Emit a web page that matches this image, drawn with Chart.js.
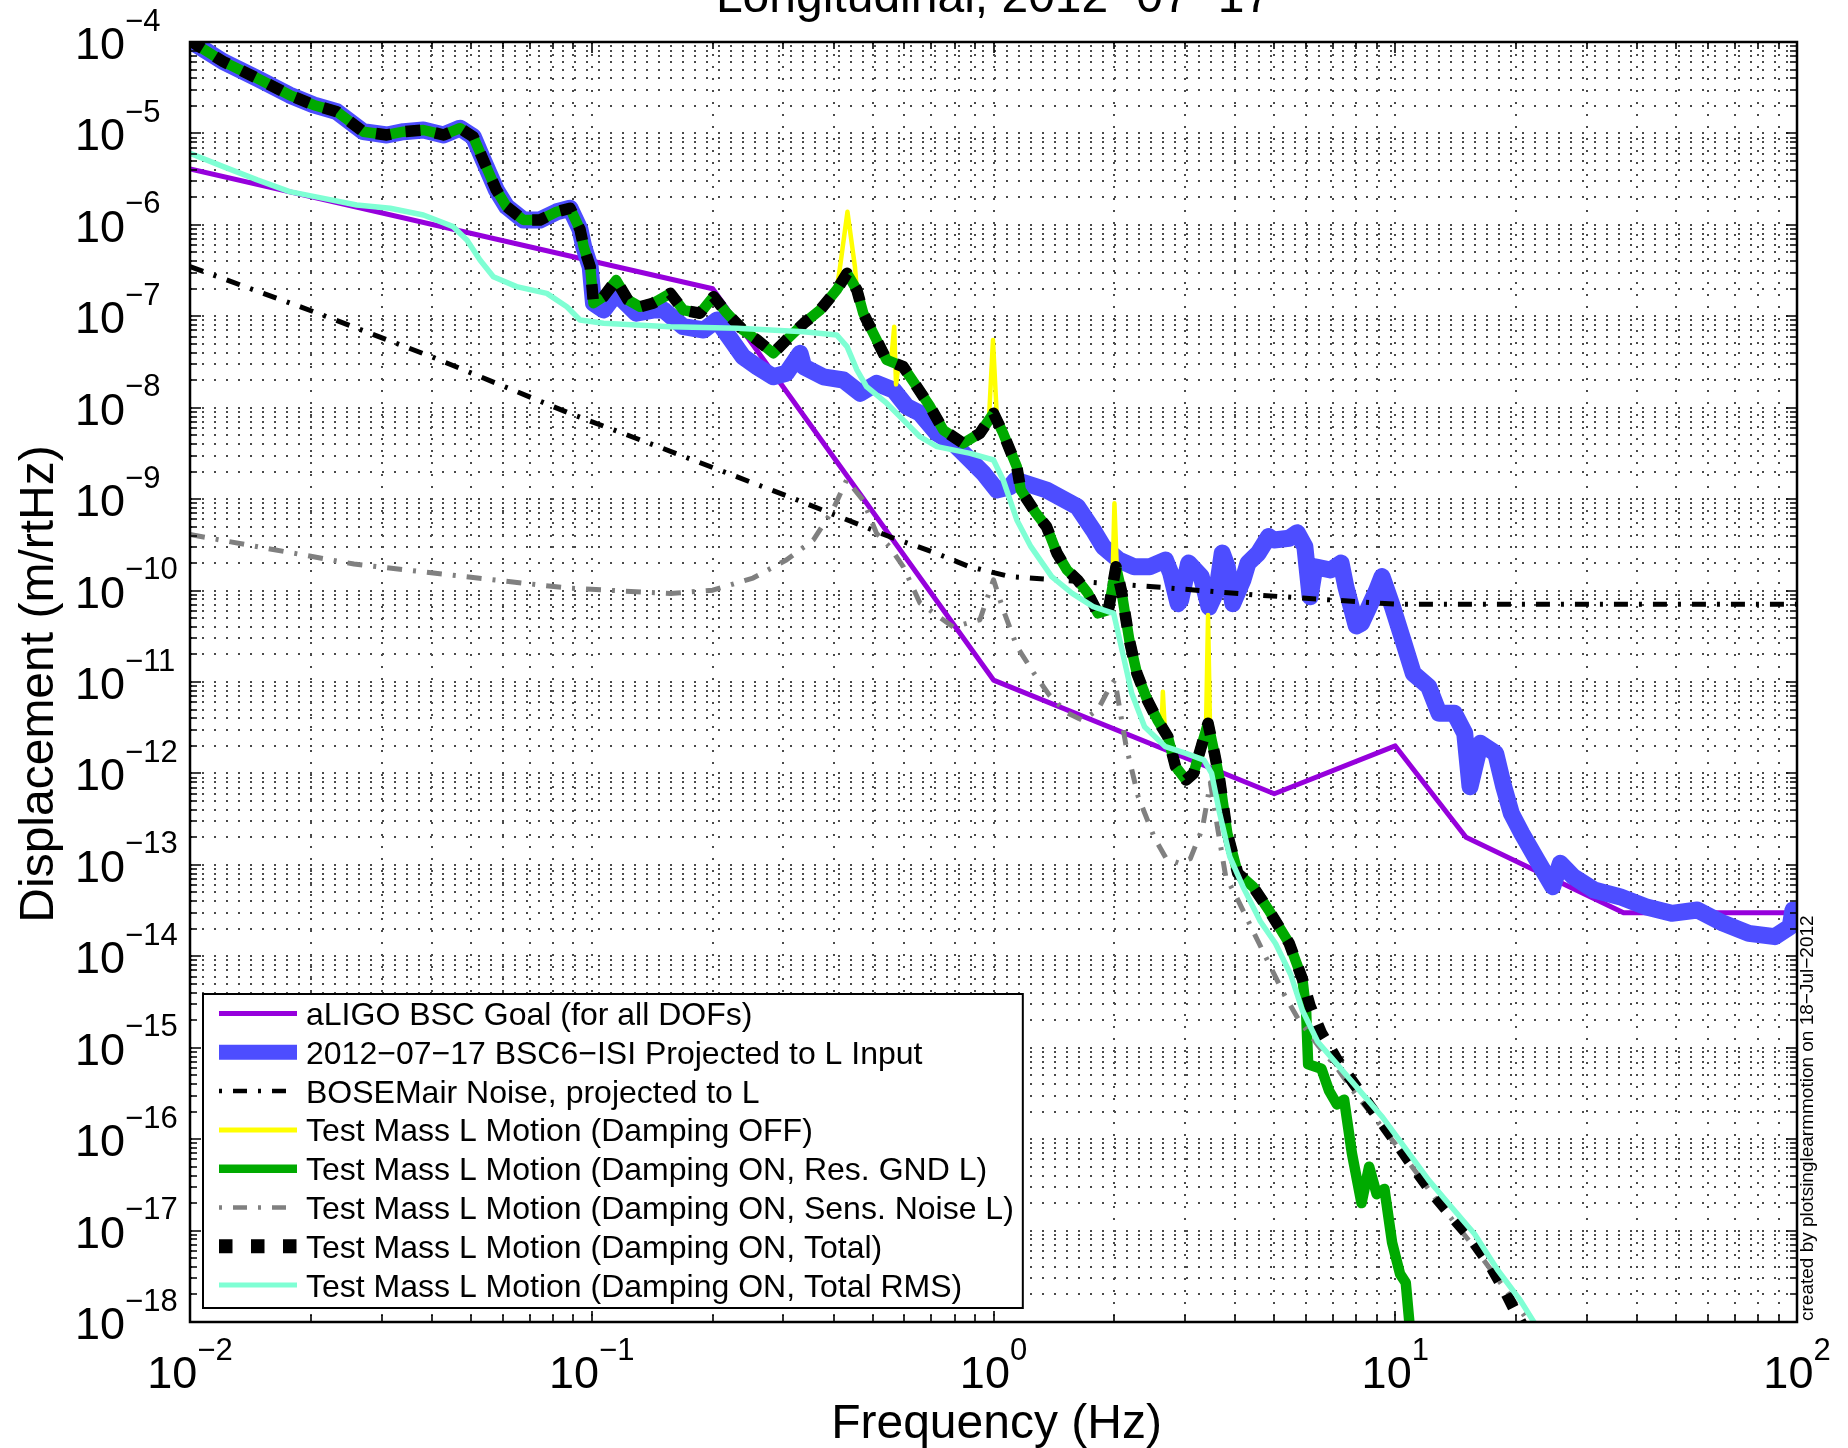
<!DOCTYPE html>
<html>
<head>
<meta charset="utf-8">
<script src="https://cdn.jsdelivr.net/npm/chart.js@4.4.0/dist/chart.umd.min.js"></script>
<style>html,body{margin:0;padding:0;background:#fff;overflow:hidden}canvas{display:block}</style>
</head>
<body>
<canvas id="c" width="1848" height="1448"></canvas>
<script>
const FONT = "'Liberation Sans', Arial, Helvetica, sans-serif";

const chartTitle = 'Longitudinal, 2012\u221207\u221217';
const xAxisTitle = 'Frequency (Hz)';
const yAxisTitle = 'Displacement (m/rtHz)';
const creditText = 'created by plotsinglearmmotion on 18\u2212Jul\u22122012';

const xTickExponents = [-2, -1, 0, 1, 2];
const yTickExponents = [-4, -5, -6, -7, -8, -9, -10, -11, -12, -13, -14, -15, -16, -17, -18];
const gridMultipliers = [1, 2, 3, 4, 5, 6, 7, 8, 9];

const seriesLabels = [
  'aLIGO BSC Goal (for all DOFs)',
  '2012\u221207\u221217 BSC6\u2212ISI Projected to L Input',
  'BOSEMair Noise, projected to L',
  'Test Mass L Motion (Damping OFF)',
  'Test Mass L Motion (Damping ON, Res. GND L)',
  'Test Mass L Motion (Damping ON, Sens. Noise L)',
  'Test Mass L Motion (Damping ON, Total)',
  'Test Mass L Motion (Damping ON, Total RMS)'
];

// aLIGO BSC goal
const goalFreq = [0.01, 0.2, 1, 5, 10, 15, 37, 100];
const goalVal  = [4.1e-6, 2.0e-7, 1.05e-11, 6.0e-13, 2.0e-12, 2.0e-13, 3.0e-14, 3.0e-14];

// BSC6-ISI projected input
const isiFreq = [0.01, 0.0104, 0.0121, 0.0147, 0.0177, 0.0203, 0.0232, 0.0270, 0.0309, 0.0340, 0.0381, 0.0428, 0.0470, 0.0507, 0.0537, 0.0579, 0.0614, 0.0676, 0.0743, 0.0818, 0.0883, 0.0935, 0.0955, 0.0991,
  0.101, 0.107, 0.115, 0.129, 0.142, 0.151, 0.169, 0.190, 0.205, 0.238, 0.258, 0.283, 0.305, 0.33, 0.337, 0.377, 0.423, 0.466, 0.512, 0.564, 0.608, 0.656, 0.723, 0.794, 0.875, 0.944,
  1.019, 1.099, 1.135, 1.355, 1.618, 1.77, 1.875, 2.051, 2.239, 2.449, 2.68, 2.761, 2.88, 2.924, 3.06, 3.289, 3.44, 3.597, 3.71, 3.819, 3.94, 4.178, 4.30, 4.56, 4.84, 4.989, 5.445, 5.70, 5.957, 6.138, 6.31, 6.902, 7.33, 7.534, 8.0, 8.241, 8.995, 9.27, 9.84,
  10.45, 11.09, 12.11, 12.85, 14.03, 14.89, 15.35, 16.29, 17.78, 18.62, 19.45, 20.65, 22.54, 24.66, 25.76, 27.73, 31.26, 36.22, 41.98, 48.75, 56.49, 65.46, 75.86, 88.1, 96.16, 97.7, 100];
const isiVal = [1.047e-4, 9.27e-5, 6.10e-5, 4.01e-5, 2.63e-5, 2.05e-5, 1.73e-5, 1.045e-5, 9.62e-6, 1.045e-5, 1.09e-5, 9.62e-6, 1.14e-5, 9.20e-6, 5.12e-6, 2.40e-6, 1.58e-6, 1.13e-6, 1.13e-6, 1.39e-6, 1.52e-6, 8.91e-7, 5.75e-7, 3.48e-7,
  1.39e-7, 1.17e-7, 1.78e-7, 1.08e-7, 1.17e-7, 1.17e-7, 7.69e-8, 7.08e-8, 9.1e-8, 3.61e-8, 2.81e-8, 2.18e-8, 2.38e-8, 3.94e-8, 2.81e-8, 2.18e-8, 2.01e-8, 1.44e-8, 1.85e-8, 1.56e-8, 1.03e-8, 8.69e-9, 5.25e-9, 4.08e-9, 2.68e-9, 1.92e-9,
  1.26e-9, 1.37e-9, 1.62e-9, 1.26e-9, 8.26e-10, 4.6e-10, 3.02e-10, 2.16e-10, 1.82e-10, 1.82e-10, 2.16e-10, 1.55e-10, 7.2e-11, 7.89e-11, 2.0e-10, 1.42e-10, 6.6e-11, 1.01e-10, 2.57e-10, 1.82e-10, 7.2e-11, 1.31e-10, 2.0e-10, 2.56e-10, 3.9e-10, 3.57e-10, 3.73e-10, 4.3e-10, 3.02e-10, 8.57e-11, 1.82e-10, 1.68e-10, 2.0e-10, 1.10e-10, 4.1e-11, 4.39e-11, 1.01e-10, 1.42e-10, 6.67e-11,
  2.88e-11, 1.24e-11, 8.89e-12, 4.55e-12, 4.55e-12, 2.75e-12, 7.16e-13, 2.14e-12, 1.66e-12, 7.16e-13, 3.66e-13, 2.21e-13, 1.13e-13, 5.77e-14, 1.04e-13, 7.43e-14, 5.31e-14, 4.49e-14, 3.49e-14, 2.95e-14, 3.21e-14, 2.3e-14, 1.78e-14, 1.64e-14, 2.11e-14, 3.21e-14, 2.5e-14];

// BOSEMair noise projected to L
const bosemFreq = [0.01, 0.02, 0.04, 0.088, 0.15, 0.31, 0.55, 0.72, 0.87, 1.1, 2.5, 4.5, 10, 100];
const bosemVal  = [3.5e-7, 1.15e-7, 3.6e-8, 8.7e-9, 3.6e-9, 1.06e-9, 3.9e-10, 2.56e-10, 1.83e-10, 1.42e-10, 1.10e-10, 8.95e-11, 7.1e-11, 7.1e-11];

// Test mass L, damping OFF
const dampOffFreq = [0.01, 0.0104, 0.0121, 0.0147, 0.0177, 0.0203, 0.0232, 0.0270, 0.0309, 0.0340, 0.0381, 0.0428, 0.0470, 0.0507, 0.0537, 0.0579, 0.0614, 0.0676, 0.0743, 0.0818, 0.0883, 0.0935, 0.0955, 0.0991,
  0.101, 0.107, 0.115, 0.123, 0.132, 0.142, 0.157, 0.169, 0.186, 0.201, 0.217, 0.238, 0.258, 0.283, 0.305, 0.337, 0.370, 0.407,
  0.415, 0.433, 0.452, 0.457, 0.474, 0.502, 0.542, 0.556, 0.566, 0.572, 0.58, 0.596, 0.644, 0.695, 0.750, 0.841, 0.925, 0.975, 0.997, 1.02,
  1.057, 1.143, 1.169, 1.276, 1.355, 1.439, 1.524, 1.618, 1.718, 1.820, 1.932, 1.975, 2.0, 2.03, 2.080, 2.178, 2.275, 2.415, 2.559, 2.62, 2.64, 2.67, 2.716, 2.838, 3.013, 3.148, 3.289, 3.38, 3.42, 3.46,
  3.548, 3.656, 3.819, 4.055, 4.426, 4.842, 5.445, 5.875, 6.00, 6.07, 6.55, 6.84, 7.16, 7.46, 7.80, 8.24, 8.61, 8.99, 9.40, 9.82, 10.28, 10.62, 10.84, 11.09];
const dampOffVal = [1.047e-4, 9.27e-5, 6.10e-5, 4.01e-5, 2.63e-5, 2.05e-5, 1.73e-5, 1.045e-5, 9.62e-6, 1.045e-5, 1.09e-5, 9.62e-6, 1.14e-5, 9.20e-6, 5.12e-6, 2.40e-6, 1.58e-6, 1.13e-6, 1.13e-6, 1.39e-6, 1.52e-6, 8.91e-7, 5.75e-7, 3.48e-7,
  1.39e-7, 1.64e-7, 2.49e-7, 1.51e-7, 1.27e-7, 1.39e-7, 1.78e-7, 1.17e-7, 1.08e-7, 1.64e-7, 1.08e-7, 7.08e-8, 5.51e-8, 3.94e-8, 5.51e-8, 8.38e-8, 1.17e-7, 1.94e-7,
  3.47e-7, 1.39e-6, 3.47e-7, 1.94e-7, 1.08e-7, 6.52e-8, 3.33e-8, 3.2e-8, 7.7e-8, 1.8e-8, 2.9e-8, 2.81e-8, 1.70e-8, 1.03e-8, 5.70e-9, 4.08e-9, 5.25e-9, 8.0e-9, 5.5e-8, 7.5e-9,
  5.25e-9, 2.26e-9, 1.26e-9, 7.0e-10, 5.0e-10, 2.56e-10, 1.68e-10, 1.31e-10, 9.33e-11, 5.64e-11, 6.12e-11, 1.0e-10, 9.0e-10, 1.5e-10, 1.01e-10, 2.88e-11, 1.24e-11, 6.35e-12, 3.85e-12, 3.2e-12, 7.8e-12, 2.9e-12, 2.52e-12, 1.19e-12, 8.47e-13, 1.0e-12, 1.96e-12, 3.0e-12, 5.4e-11, 3.0e-12,
  1.66e-12, 8.47e-13, 2.21e-13, 8.09e-14, 5.77e-14, 3.21e-14, 1.39e-14, 5.61e-15, 2.5e-15, 6.6e-16, 5.9e-16, 3.4e-16, 2.4e-16, 2.7e-16, 7.0e-17, 2.0e-17, 5.0e-17, 2.5e-17, 2.85e-17, 7.4e-18, 3.35e-18, 2.7e-18, 1.0e-18, 2.5e-19];

// Test mass L, damping ON, residual ground
const resGndFreq = [0.01, 0.0104, 0.0121, 0.0147, 0.0177, 0.0203, 0.0232, 0.0270, 0.0309, 0.0340, 0.0381, 0.0428, 0.0470, 0.0507, 0.0537, 0.0579, 0.0614, 0.0676, 0.0743, 0.0818, 0.0883, 0.0935, 0.0955, 0.0991,
  0.101, 0.107, 0.115, 0.123, 0.132, 0.142, 0.157, 0.169, 0.186, 0.201, 0.217, 0.238, 0.258, 0.283, 0.305, 0.337, 0.370, 0.407, 0.432, 0.457, 0.474, 0.502, 0.542, 0.596, 0.644, 0.695, 0.750, 0.841, 0.925,
  1.0, 1.057, 1.143, 1.169, 1.276, 1.355, 1.439, 1.524, 1.618, 1.718, 1.820, 1.932, 2.018, 2.080, 2.178, 2.275, 2.415, 2.559, 2.716, 2.838, 3.013, 3.148, 3.289, 3.420, 3.548, 3.656, 3.819, 4.055, 4.426, 4.842, 5.445, 5.875,
  6.00, 6.07, 6.55, 6.84, 7.16, 7.46, 7.80, 8.24, 8.61, 8.99, 9.40, 9.82, 10.28, 10.62, 10.84, 11.09];
const resGndVal = [1.047e-4, 9.27e-5, 6.10e-5, 4.01e-5, 2.63e-5, 2.05e-5, 1.73e-5, 1.045e-5, 9.62e-6, 1.045e-5, 1.09e-5, 9.62e-6, 1.14e-5, 9.20e-6, 5.12e-6, 2.40e-6, 1.58e-6, 1.13e-6, 1.13e-6, 1.39e-6, 1.52e-6, 8.91e-7, 5.75e-7, 3.48e-7,
  1.39e-7, 1.64e-7, 2.49e-7, 1.51e-7, 1.27e-7, 1.39e-7, 1.78e-7, 1.17e-7, 1.08e-7, 1.64e-7, 1.08e-7, 7.08e-8, 5.51e-8, 3.94e-8, 5.51e-8, 8.38e-8, 1.17e-7, 1.94e-7, 2.95e-7, 1.94e-7, 1.08e-7, 6.52e-8, 3.33e-8, 2.81e-8, 1.70e-8, 1.03e-8, 5.70e-9, 4.08e-9, 5.25e-9,
  8.69e-9, 5.25e-9, 2.26e-9, 1.26e-9, 7.0e-10, 5.0e-10, 2.56e-10, 1.68e-10, 1.31e-10, 9.33e-11, 5.64e-11, 6.12e-11, 1.82e-10, 1.01e-10, 2.88e-11, 1.24e-11, 6.35e-12, 3.85e-12, 2.52e-12, 1.19e-12, 8.47e-13, 1.0e-12, 1.96e-12, 3.54e-12, 1.66e-12, 8.47e-13, 2.21e-13, 8.09e-14, 5.77e-14, 3.21e-14, 1.39e-14, 5.61e-15,
  2.5e-15, 6.6e-16, 5.9e-16, 3.4e-16, 2.4e-16, 2.7e-16, 7.0e-17, 2.0e-17, 5.0e-17, 2.5e-17, 2.85e-17, 7.4e-18, 3.35e-18, 2.7e-18, 1.0e-18, 2.5e-19];

// Test mass L, damping ON, sensor noise
const sensFreq = [0.01, 0.0256, 0.0706, 0.0883, 0.157, 0.200, 0.252, 0.305, 0.356, 0.398, 0.431, 0.473, 0.512, 0.552, 0.596, 0.656, 0.794, 0.925, 1.0, 1.057, 1.143, 1.259, 1.38, 1.524, 1.667, 1.82, 1.95, 2.004,
  2.138, 2.291, 2.512, 2.692, 2.884, 3.09, 3.311, 3.467, 3.614, 3.784, 4.046, 4.416, 4.819, 5.26, 5.741, 6.412, 7.161, 7.943, 10.0, 12.59, 15.85, 19.95, 22.39];
const sensVal = [4.1e-10, 1.95e-10, 1.18e-10, 1.06e-10, 9.3e-11, 1.01e-10, 1.37e-10, 2.16e-10, 3.57e-10, 7.6e-10, 1.62e-9, 9.8e-10, 4.2e-10, 3.0e-10, 1.83e-10, 7.3e-11, 4.0e-11, 4.8e-11, 1.31e-10, 6.2e-11, 2.45e-11, 1.26e-11, 7.1e-12, 4.6e-12, 3.8e-12, 5.0e-12, 8.9e-12, 1.05e-11,
  2.0e-12, 5.6e-13, 2.0e-13, 1.17e-13, 1.05e-13, 1.17e-13, 2.5e-13, 7.9e-13, 2.5e-13, 7.5e-14, 4.25e-14, 1.93e-14, 8.8e-15, 4.0e-15, 2.04e-15, 1.07e-15, 6.0e-16, 3.16e-16, 8.9e-17, 2.24e-17, 6.3e-18, 1.58e-18, 7.9e-19];

// Test mass L, damping ON, total
const totalFreq = [0.01, 0.0104, 0.0121, 0.0147, 0.0177, 0.0203, 0.0232, 0.0270, 0.0309, 0.0340, 0.0381, 0.0428, 0.0470, 0.0507, 0.0537, 0.0579, 0.0614, 0.0676, 0.0743, 0.0818, 0.0883, 0.0935, 0.0955, 0.0991,
  0.101, 0.107, 0.115, 0.123, 0.132, 0.142, 0.157, 0.169, 0.186, 0.201, 0.217, 0.238, 0.258, 0.283, 0.305, 0.337, 0.370, 0.407, 0.432, 0.457, 0.474, 0.502, 0.542, 0.596, 0.644, 0.695, 0.750, 0.841, 0.925,
  1.0, 1.057, 1.143, 1.169, 1.276, 1.355, 1.439, 1.524, 1.618, 1.718, 1.820, 1.932, 2.018, 2.080, 2.178, 2.275, 2.415, 2.559, 2.716, 2.838, 3.013, 3.148, 3.289, 3.420, 3.548, 3.656, 3.819, 4.055, 4.426, 4.842, 5.445, 5.875,
  6.138, 6.546, 7.161, 7.980, 8.913, 9.954, 11.09, 12.39, 13.80, 15.42, 17.22, 18.79, 20.04, 21.38];
const totalVal = [1.047e-4, 9.27e-5, 6.10e-5, 4.01e-5, 2.63e-5, 2.05e-5, 1.73e-5, 1.045e-5, 9.62e-6, 1.045e-5, 1.09e-5, 9.62e-6, 1.14e-5, 9.20e-6, 5.12e-6, 2.40e-6, 1.58e-6, 1.13e-6, 1.13e-6, 1.39e-6, 1.52e-6, 8.91e-7, 5.75e-7, 3.48e-7,
  1.39e-7, 1.64e-7, 2.49e-7, 1.51e-7, 1.27e-7, 1.39e-7, 1.78e-7, 1.17e-7, 1.08e-7, 1.64e-7, 1.08e-7, 7.08e-8, 5.51e-8, 3.94e-8, 5.51e-8, 8.38e-8, 1.17e-7, 1.94e-7, 2.95e-7, 1.94e-7, 1.08e-7, 6.52e-8, 3.33e-8, 2.81e-8, 1.70e-8, 1.03e-8, 5.70e-9, 4.08e-9, 5.25e-9,
  8.69e-9, 5.25e-9, 2.26e-9, 1.26e-9, 7.0e-10, 5.0e-10, 2.56e-10, 1.68e-10, 1.31e-10, 9.33e-11, 5.64e-11, 6.12e-11, 1.82e-10, 1.01e-10, 2.88e-11, 1.24e-11, 6.35e-12, 3.85e-12, 2.52e-12, 1.19e-12, 8.47e-13, 1.0e-12, 1.96e-12, 3.54e-12, 1.66e-12, 8.47e-13, 2.21e-13, 8.09e-14, 5.77e-14, 3.21e-14, 1.39e-14, 5.61e-15,
  2.86e-15, 1.45e-15, 7.41e-16, 3.78e-16, 1.92e-16, 9.79e-17, 4.99e-17, 2.54e-17, 1.45e-17, 8.26e-18, 4.21e-18, 2.14e-18, 1.22e-18, 7.08e-19];

// Test mass L, damping ON, total RMS
const rmsFreq = [0.01, 0.0121, 0.0147, 0.0177, 0.0215, 0.026, 0.0315, 0.0381, 0.0452, 0.0489, 0.0527, 0.0569, 0.065, 0.0773, 0.0867, 0.0935, 0.107, 0.157, 0.23, 0.337, 0.407, 0.432, 0.457, 0.483, 0.542, 0.596, 0.656, 0.723, 0.875,
  1.0, 1.057, 1.143, 1.239, 1.396, 1.57, 1.77, 1.991, 2.08, 2.208, 2.377, 2.679, 3.013, 3.342, 3.491, 3.656, 3.873, 4.178, 4.613, 5.035, 5.495, 5.875, 6.412, 7.161, 8.166, 9.311, 10.62, 12.11, 13.8, 15.74, 17.95, 20.51, 22.13, 23.4];
const rmsVal = [6.07e-6, 4.33e-6, 3.10e-6, 2.31e-6, 1.95e-6, 1.65e-6, 1.52e-6, 1.28e-6, 9.55e-7, 6.82e-7, 4.13e-7, 2.71e-7, 2.11e-7, 1.78e-7, 1.27e-7, 9.1e-8, 8.38e-8, 7.69e-8, 7.4e-8, 6.79e-8, 6.25e-8, 4.66e-8, 2.59e-8, 1.70e-8, 1.12e-8, 7.35e-9, 4.82e-9, 3.75e-9, 3.17e-9,
  2.68e-9, 1.62e-9, 5.92e-10, 3.02e-10, 1.42e-10, 9.33e-11, 6.67e-11, 5.64e-11, 2.43e-11, 7.52e-12, 3.24e-12, 1.96e-12, 1.66e-12, 1.40e-12, 1.0e-12, 3.66e-13, 1.23e-13, 5.77e-14, 2.42e-14, 1.38e-14, 6.28e-15, 2.55e-15, 1.16e-15, 6.62e-16, 3.37e-16, 1.72e-16, 7.82e-17, 3.56e-17, 1.81e-17, 9.23e-18, 3.75e-18, 1.71e-18, 1.0e-18, 6.3e-19];

const seriesFreq = [goalFreq, isiFreq, bosemFreq, dampOffFreq, resGndFreq, sensFreq, totalFreq, rmsFreq];
const seriesVal  = [goalVal, isiVal, bosemVal, dampOffVal, resGndVal, sensVal, totalVal, rmsVal];

const seriesStyles = [
  { color: '#9600DC', width: 5, dash: [], order: 8, lw: 5 },
  { color: '#4D4DFF', width: 17, dash: [], order: 7, lw: 15 },
  { color: '#000000', width: 5, dash: [14, 11, 3, 11], order: 6, lw: 4.5, ldash: [14, 11, 3, 11], loff: 25 },
  { color: '#FFFF00', width: 4.5, dash: [], order: 5, lw: 5 },
  { color: '#00AA00', width: 10.5, dash: [], order: 4, lw: 8.5 },
  { color: '#808080', width: 5, dash: [15, 11, 3, 11], order: 3, lw: 4.5, ldash: [14, 11, 3, 11], loff: 25 },
  { color: '#000000', width: 11.5, dash: [15, 15], order: 2, lw: 14, ldash: [13.5, 18.5], loff: 0 },
  { color: '#7FFFD4', width: 5.5, dash: [], order: 1, lw: 5 }
];

const datasets = seriesLabels.map((label, i) => {
  const st = seriesStyles[i];
  return {
    label,
    data: seriesFreq[i].map((f, k) => ({ x: f, y: seriesVal[i][k] })),
    borderColor: st.color,
    backgroundColor: st.color,
    borderWidth: st.width,
    borderDash: st.dash,
    borderCapStyle: st.dash.length ? 'butt' : 'round',
    borderJoinStyle: 'round',
    pointRadius: 0,
    fill: false,
    tension: 0,
    order: st.order,
    clip: 0
  };
});

function gridPositions(exps) {
  const lo = Math.min(...exps), hi = Math.max(...exps);
  const out = [];
  for (let e = lo; e < hi; e++) for (const m of gridMultipliers) out.push({ v: m * Math.pow(10, e), major: m === 1 });
  out.push({ v: Math.pow(10, hi), major: true });
  return out;
}

const matlabFrame = {
  id: 'matlabFrame',
  beforeDraw(chart) {
    const ctx = chart.ctx;
    ctx.save();
    ctx.fillStyle = '#ffffff';
    ctx.fillRect(0, 0, chart.width, chart.height);
    ctx.restore();
  },
  beforeDatasetsDraw(chart) {
    const { ctx, chartArea: a, scales: { x, y } } = chart;
    ctx.save();
    ctx.strokeStyle = '#4a4a4a';
    ctx.lineWidth = 2;
    ctx.setLineDash([2, 10]);
    for (const g of gridPositions(xTickExponents)) {
      const px = Math.round(x.getPixelForValue(g.v));
      if (px <= a.left + 2 || px >= a.right - 2) continue;
      ctx.beginPath(); ctx.moveTo(px, a.top); ctx.lineTo(px, a.bottom); ctx.stroke();
    }
    for (const g of gridPositions(yTickExponents)) {
      const py = Math.round(y.getPixelForValue(g.v));
      if (py <= a.top + 2 || py >= a.bottom - 2) continue;
      ctx.beginPath(); ctx.moveTo(a.left, py); ctx.lineTo(a.right, py); ctx.stroke();
    }
    ctx.restore();
  },
  afterDatasetsDraw(chart) {
    const { ctx, chartArea: a, scales: { x, y } } = chart;
    ctx.save();
    ctx.setLineDash([]);
    ctx.strokeStyle = '#000';
    ctx.fillStyle = '#000';

    // tick marks (inside, all four sides)
    ctx.lineWidth = 1.6;
    for (const g of gridPositions(xTickExponents)) {
      const px = Math.round(x.getPixelForValue(g.v));
      const len = g.major ? 11 : 7;
      ctx.beginPath();
      ctx.moveTo(px, a.bottom); ctx.lineTo(px, a.bottom - len);
      ctx.moveTo(px, a.top); ctx.lineTo(px, a.top + len);
      ctx.stroke();
    }
    for (const g of gridPositions(yTickExponents)) {
      const py = Math.round(y.getPixelForValue(g.v));
      const len = g.major ? 11 : 7;
      ctx.beginPath();
      ctx.moveTo(a.left, py); ctx.lineTo(a.left + len, py);
      ctx.moveTo(a.right, py); ctx.lineTo(a.right - len, py);
      ctx.stroke();
    }
    // axes box
    ctx.lineWidth = 2.5;
    ctx.strokeRect(a.left, a.top, a.right - a.left, a.bottom - a.top);

    // tick labels
    const baseFont = '45px ' + FONT, expFont = '31px ' + FONT;
    ctx.textBaseline = 'alphabetic';
    ctx.textAlign = 'left';
    for (const e of xTickExponents) {
      const px = x.getPixelForValue(Math.pow(10, e));
      const expStr = String(e).replace('-', '\u2212');
      ctx.font = baseFont; const w1 = ctx.measureText('10').width;
      ctx.font = expFont; const w2 = ctx.measureText(expStr).width;
      const left = px - (w1 + w2) / 2;
      ctx.font = baseFont; ctx.fillText('10', left, a.bottom + 66);
      ctx.font = expFont; ctx.fillText(expStr, left + w1, a.bottom + 37.5);
    }
    for (const e of yTickExponents) {
      const py = y.getPixelForValue(Math.pow(10, e));
      const expStr = String(e).replace('-', '\u2212');
      ctx.font = baseFont; const w1 = ctx.measureText('10').width;
      ctx.fillText('10', 75, py + 17);
      ctx.font = expFont; ctx.fillText(expStr, 75 + w1, py - 11.5);
    }

    // titles
    ctx.font = '48px ' + FONT;
    ctx.textAlign = 'center';
    ctx.fillText(chartTitle, (a.left + a.right) / 2, 12);
    ctx.fillText(xAxisTitle, (a.left + a.right) / 2 + 3, a.bottom + 116);
    ctx.save();
    ctx.translate(53, (a.top + a.bottom) / 2 + 2);
    ctx.rotate(-Math.PI / 2);
    ctx.fillText(yAxisTitle, 0, 0);
    ctx.restore();

    ctx.save();
    ctx.font = '19px ' + FONT;
    ctx.textAlign = 'left';
    ctx.translate(a.right + 16, a.bottom - 1);
    ctx.rotate(-Math.PI / 2);
    ctx.fillText(creditText, 0, 0);
    ctx.restore();

    // legend
    const legFont = '32px ' + FONT;
    ctx.font = legFont;
    let maxW = 0;
    for (const d of chart.data.datasets) maxW = Math.max(maxW, ctx.measureText(d.label).width);
    const boxL = a.left + 13, boxB = a.bottom - 14, boxT = boxB - 314;
    const sampleX0 = boxL + 16, sampleX1 = boxL + 94, textX = boxL + 103;
    const boxR = textX + maxW + 9;
    ctx.fillStyle = '#fff';
    ctx.fillRect(boxL, boxT, boxR - boxL, boxB - boxT);
    ctx.lineWidth = 2;
    ctx.strokeStyle = '#000';
    ctx.strokeRect(boxL, boxT, boxR - boxL, boxB - boxT);
    chart.data.datasets.forEach((d, i) => {
      const st = seriesStyles[i];
      const ry = boxT + 19.5 + i * 38.8;
      ctx.save();
      ctx.strokeStyle = st.color;
      ctx.lineWidth = st.lw;
      ctx.lineCap = 'butt';
      ctx.setLineDash(st.ldash || []);
      ctx.lineDashOffset = st.loff || 0;
      ctx.beginPath(); ctx.moveTo(sampleX0, ry); ctx.lineTo(sampleX1, ry); ctx.stroke();
      ctx.restore();
      ctx.fillStyle = '#000';
      ctx.font = legFont;
      ctx.textAlign = 'left';
      ctx.textBaseline = 'alphabetic';
      ctx.fillText(d.label, textX, ry + 11.5);
    });
    ctx.restore();
  }
};

new Chart(document.getElementById('c'), {
  type: 'line',
  data: { datasets },
  options: {
    responsive: false,
    devicePixelRatio: 1,
    animation: false,
    events: [],
    layout: { padding: { left: 190, right: 51, top: 42, bottom: 126 } },
    plugins: { legend: { display: false }, title: { display: false }, tooltip: { enabled: false } },
    elements: { point: { radius: 0 }, line: { tension: 0 } },
    scales: {
      x: { type: 'logarithmic', min: 0.01, max: 100, ticks: { display: false }, grid: { display: false, drawTicks: false }, border: { display: false } },
      y: { type: 'logarithmic', min: 1e-18, max: 1e-4, ticks: { display: false }, grid: { display: false, drawTicks: false }, border: { display: false } }
    }
  },
  plugins: [matlabFrame]
});
</script>
</body>
</html>
